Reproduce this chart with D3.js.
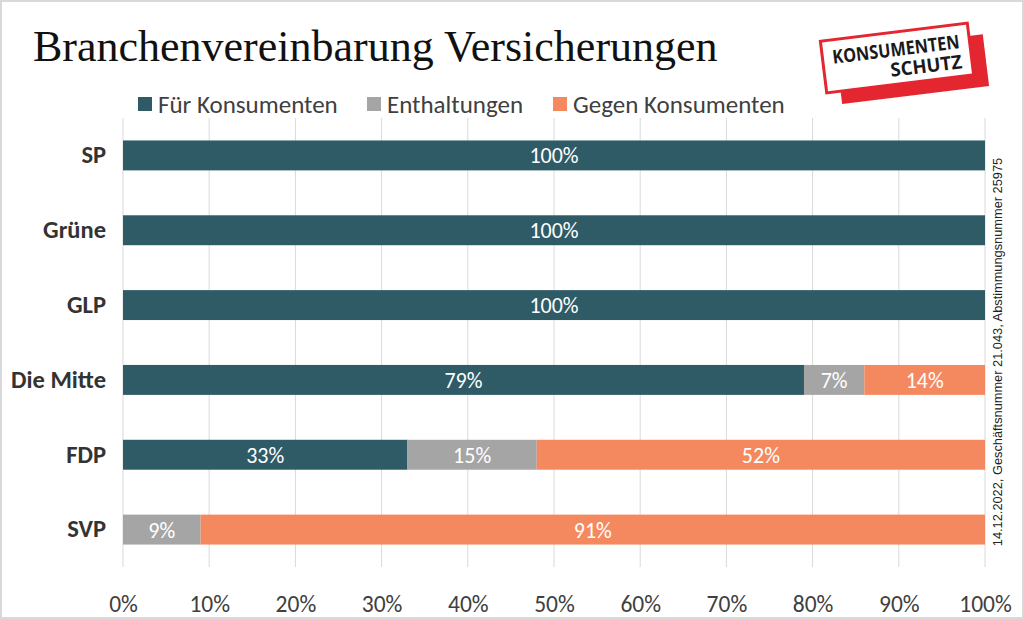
<!DOCTYPE html>
<html>
<head>
<meta charset="utf-8">
<script src="https://cdn.jsdelivr.net/npm/d3@7"></script>
<style>
  body { margin: 0; background: #fff; }
  svg { display: block; }
</style>
</head>
<body>
<svg id="chart"></svg>
<script>
// Chart data
const parties = ["SP", "Grüne", "GLP", "Die Mitte", "FDP", "SVP"];
const fuer = [100, 100, 100, 79, 33, 0];
const enthaltungen = [0, 0, 0, 7, 15, 9];
const gegen = [0, 0, 0, 14, 52, 91];
const seriesNames = ["Für Konsumenten", "Enthaltungen", "Gegen Konsumenten"];
const xTicks = [0, 10, 20, 30, 40, 50, 60, 70, 80, 90, 100];

const W = 1024, H = 619;
const margin = { top: 118, right: 39, bottom: 52, left: 123 };
const width = W - margin.left - margin.right;
const height = H - margin.top - margin.bottom;
const colors = ["#2E5B66", "#A5A5A5", "#F4895F"];
const labelFont = "Carlito, Lato, 'Open Sans', sans-serif";

const svgRoot = d3.select("#chart").attr("width", W).attr("height", H);

// light frame round the picture
svgRoot.append("rect")
  .attr("x", 1).attr("y", 1).attr("width", W - 2).attr("height", H - 2)
  .attr("fill", "#fff").attr("stroke", "#D9D9D9").attr("stroke-width", 2);

const svg = svgRoot.append("g")
  .attr("transform", `translate(${margin.left},${margin.top})`);

const x = d3.scaleLinear().domain([0, 100]).range([0, width]);
const y = d3.scaleBand().domain(parties).range([0, height]).paddingInner(0.6).paddingOuter(0.3);

// gridlines
svg.append("g")
  .selectAll("line")
  .data(xTicks)
  .enter().append("line")
  .attr("x1", d => x(d)).attr("x2", d => x(d))
  .attr("y1", 0).attr("y2", height)
  .attr("stroke", "#D9D9D9").attr("stroke-width", 1);

// x axis labels
const xAxis = svg.append("g")
  .attr("transform", `translate(0,${height})`)
  .call(d3.axisBottom(x).tickValues(xTicks).tickFormat(d => d + "%").tickSize(0).tickPadding(28));
xAxis.select(".domain").remove();
xAxis.selectAll("text")
  .style("font-family", labelFont).style("font-size", "23.5px").attr("fill", "#404040");

// y axis labels
const yAxis = svg.append("g")
  .call(d3.axisLeft(y).tickSize(0).tickPadding(17));
yAxis.select(".domain").remove();
yAxis.selectAll("text")
  .style("font-family", labelFont).style("font-size", "24.5px")
  .style("font-weight", "bold").attr("fill", "#333");

// stacked bars
const rows = parties.map((p, i) => ({ party: p, values: [fuer[i], enthaltungen[i], gegen[i]] }));
const segs = [];
rows.forEach(r => {
  let acc = 0;
  r.values.forEach((v, k) => {
    segs.push({ party: r.party, k: k, x0: acc, x1: acc + v, v: v });
    acc += v;
  });
});

svg.selectAll(".seg")
  .data(segs.filter(d => d.v > 0))
  .enter().append("rect")
  .attr("class", "seg")
  .attr("x", d => x(d.x0))
  .attr("y", d => y(d.party))
  .attr("width", d => x(d.x1) - x(d.x0))
  .attr("height", y.bandwidth())
  .attr("fill", d => colors[d.k]);

svg.selectAll(".val")
  .data(segs.filter(d => d.v > 0))
  .enter().append("text")
  .attr("x", d => (x(d.x0) + x(d.x1)) / 2)
  .attr("y", d => y(d.party) + y.bandwidth() / 2)
  .attr("dy", "0.36em")
  .attr("text-anchor", "middle")
  .style("font-family", labelFont).style("font-size", "22px")
  .attr("fill", "#fff")
  .text(d => d.v + "%");

// title
svgRoot.append("text")
  .attr("x", 33).attr("y", 61)
  .style("font-family", "'Liberation Serif', 'DejaVu Serif', serif")
  .style("font-size", "44px")
  .attr("fill", "#111")
  .text("Branchenvereinbarung Versicherungen");

// legend
const legendX = [138, 367, 553];
const legend = svgRoot.append("g");
seriesNames.forEach((name, i) => {
  legend.append("rect")
    .attr("x", legendX[i]).attr("y", 97).attr("width", 14).attr("height", 14)
    .attr("fill", colors[i]);
  legend.append("text")
    .attr("x", legendX[i] + 20).attr("y", 104).attr("dy", "0.36em")
    .style("font-family", labelFont).style("font-size", "25px")
    .attr("fill", "#404040")
    .text(name);
});

// side note
svgRoot.append("text")
  .attr("transform", "translate(1002,352) rotate(-90)")
  .attr("text-anchor", "middle")
  .style("font-family", "'Liberation Sans', Arial, sans-serif")
  .style("font-size", "12.8px")
  .attr("fill", "#222")
  .text("14.12.2022, Geschäftsnummer 21.043, Abstimmungsnummer  25975");

// logo
const logo = svgRoot.append("g").attr("transform", "translate(897,58) rotate(-7)");
logo.append("rect")
  .attr("x", -60).attr("y", -13).attr("width", 148).attr("height", 52)
  .attr("fill", "#E3262F");
logo.append("rect")
  .attr("x", -74).attr("y", -26).attr("width", 148).attr("height", 52)
  .attr("fill", "#fff").attr("stroke", "#E3262F").attr("stroke-width", 3);
logo.append("text")
  .attr("x", 0).attr("y", -2)
  .attr("text-anchor", "middle")
  .style("font-family", "'Open Sans', sans-serif").style("font-weight", "bold")
  .style("font-size", "19px").attr("fill", "#1a1a1a")
  .attr("textLength", 128).attr("lengthAdjust", "spacingAndGlyphs")
  .text("KONSUMENTEN");
logo.append("text")
  .attr("x", 64).attr("y", 18)
  .attr("text-anchor", "end")
  .style("font-family", "'Open Sans', sans-serif").style("font-weight", "bold")
  .style("font-size", "19px").attr("fill", "#1a1a1a")
  .attr("textLength", 72).attr("lengthAdjust", "spacingAndGlyphs")
  .text("SCHUTZ");
</script>
</body>
</html>
